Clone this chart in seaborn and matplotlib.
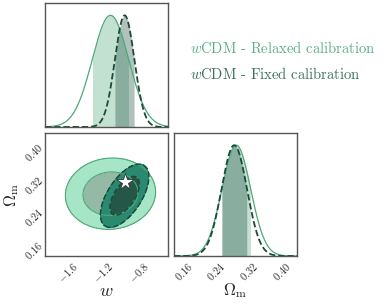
import numpy as np
import pandas as pd
import matplotlib
matplotlib.use('Agg')
import matplotlib.pyplot as plt
import seaborn as sns

# posterior summaries
labels = ['CDM - Relaxed calibration', 'CDM - Fixed calibration']
relaxed_mean = [-1.16, 0.282]
relaxed_std = [0.205, 0.035]
relaxed_corr = 0.05
fixed_mean = [-1.00, 0.277]
fixed_std = [0.11, 0.031]
fixed_corr = 0.6
truth = [-1.0, 0.31]

w_ticks = [-1.6, -1.2, -0.8]
om_ticks = [0.16, 0.24, 0.32, 0.40]
w_lim = (-1.9, -0.51)
om_lim = (0.13, 0.43)

c_rel_line = '#4ea87a'
c_rel_out = '#a6e5c5'
c_rel_in = '#94b9a5'
c_fix_line = '#1d4a3c'
c_fix_out = '#2a8a6f'
c_fix_in = '#245747'

sns.set_theme(style='white')
plt.rcParams['mathtext.fontset'] = 'cm'
plt.rcParams['font.family'] = ['cmr10', 'DejaVu Serif']
plt.rcParams['axes.unicode_minus'] = False
plt.rcParams['axes.edgecolor'] = '#555555'
plt.rcParams['axes.linewidth'] = 1.0

fig = plt.figure(figsize=(3.9, 3.04), dpi=100)
ax_w = fig.add_axes([45/390, 1-127/304, 123/390, 124/304])
ax_2d = fig.add_axes([45/390, 1-256/304, 123/390, 123/304])
ax_om = fig.add_axes([174/390, 1-256/304, 123/390, 123/304])


def gauss(x, m, s):
    return np.exp(-0.5*((x-m)/s)**2)


def marginal(ax, x, m_rel, s_rel, m_fix, s_fix):
    df = pd.DataFrame({'x': np.concatenate([x, x]),
                       'p': np.concatenate([gauss(x, m_rel, s_rel), gauss(x, m_fix, s_fix)]),
                       'run': ['rel']*len(x) + ['fix']*len(x)})
    for m, s, c in [(m_rel, s_rel, c_rel_line), (m_fix, s_fix, c_fix_line)]:
        sel = (x >= m-s) & (x <= m+s)
        ax.fill_between(x[sel], 0, gauss(x[sel], m, s), color=c, alpha=0.34, lw=0)
    sns.lineplot(data=df[df.run == 'rel'], x='x', y='p', ax=ax, color=c_rel_line, lw=0.9)
    sns.lineplot(data=df[df.run == 'fix'], x='x', y='p', ax=ax, color=c_fix_line, lw=1.3,
                 linestyle=(0, (3.5, 1.6)))
    ax.set_ylim(0, 1.11)
    ax.set_yticks([])
    ax.set_xlabel('')
    ax.set_ylabel('')


xw = np.linspace(w_lim[0], w_lim[1], 400)
xo = np.linspace(om_lim[0], om_lim[1], 400)

marginal(ax_w, xw, relaxed_mean[0], relaxed_std[0], fixed_mean[0], fixed_std[0])
ax_w.set_xlim(w_lim)
ax_w.set_xticks(w_ticks)
ax_w.set_xticklabels([])
ax_w.tick_params(axis='x', direction='in', length=3, color='#555555')

marginal(ax_om, xo, relaxed_mean[1], relaxed_std[1], fixed_mean[1], fixed_std[1])
ax_om.set_xlim(om_lim)
ax_om.set_xticks(om_ticks)
ax_om.set_xticklabels([r'$%.2f$' % t for t in om_ticks], rotation=45, ha='right',
                      va='top', rotation_mode='anchor', fontsize=7.5)
ax_om.tick_params(axis='x', direction='in', length=3, color='#555555', pad=3)
ax_om.set_xlabel(r'$\Omega_{\rm m}$', fontsize=12, labelpad=-1)

# 2D contours from the gaussian approximations
W, O = np.meshgrid(np.linspace(w_lim[0], w_lim[1], 300), np.linspace(om_lim[0], om_lim[1], 300))


def chi2(mean, std, rho):
    dx = (W-mean[0])/std[0]
    dy = (O-mean[1])/std[1]
    return (dx**2 - 2*rho*dx*dy + dy**2)/(1-rho**2)


lev = [0, 2.30, 6.18]
d_rel = chi2(relaxed_mean, relaxed_std, relaxed_corr)
d_fix = chi2(fixed_mean, fixed_std, fixed_corr)
ax_2d.contourf(W, O, d_rel, levels=lev, colors=[c_rel_in, c_rel_out])
ax_2d.contour(W, O, d_rel, levels=lev[1:], colors=c_rel_line, linewidths=0.8)
ax_2d.contourf(W, O, d_fix, levels=lev, colors=[c_fix_in, c_fix_out])
ax_2d.contour(W, O, d_fix, levels=lev[1:], colors=c_fix_line, linewidths=1.1,
              linestyles='--')
ax_2d.plot(truth[0], truth[1], marker='*', ms=13, mfc='white', mec='#333333', mew=0.6)
ax_2d.set_xlim(w_lim)
ax_2d.set_ylim(om_lim)
ax_2d.set_xticks(w_ticks)
ax_2d.set_xticklabels([r'$%.1f$' % t for t in w_ticks], rotation=45, ha='right',
                      va='top', rotation_mode='anchor', fontsize=7.5)
ax_2d.set_yticks(om_ticks)
ax_2d.set_yticklabels([r'$%.2f$' % t for t in om_ticks], rotation=45, ha='right',
                      va='center', rotation_mode='anchor', fontsize=7.5)
ax_2d.tick_params(direction='in', length=3, color='#555555', pad=3)
ax_2d.set_xlabel(r'$w$', fontsize=13, labelpad=-1)
ax_2d.set_ylabel(r'$\Omega_{\rm m}$', fontsize=12, labelpad=1)

fig.text(190/390, 1-48/304, r'$w$' + labels[0],
         color='#5cae84', fontsize=10.5, va='center')
fig.text(190/390, 1-74/304, r'$w$' + labels[1],
         color='#3b6e60', fontsize=10.5, va='center')

fig.savefig('out.png', dpi=100)
